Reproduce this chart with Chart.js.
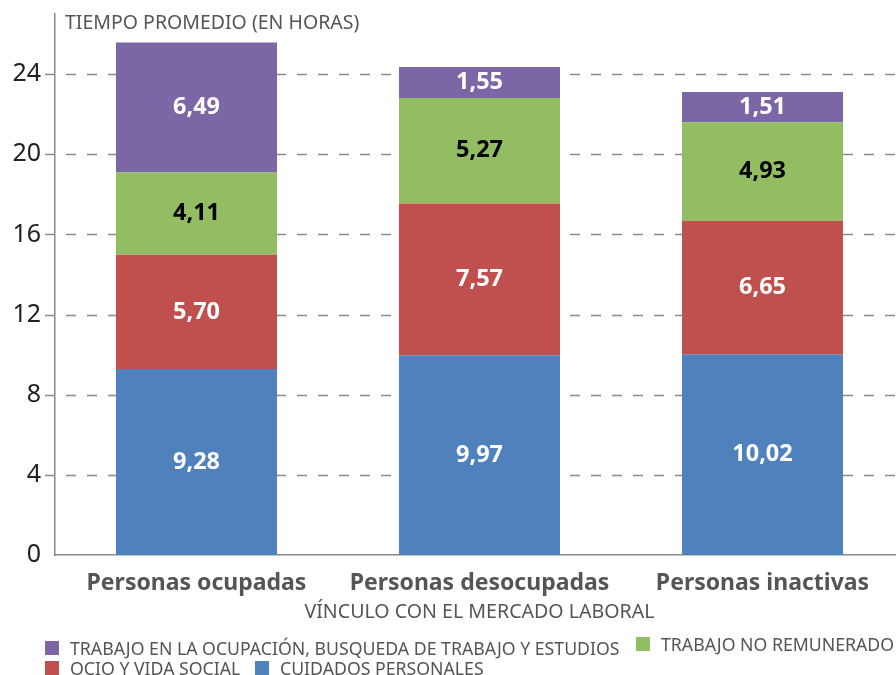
<!DOCTYPE html>
<html lang="es">
<head>
<meta charset="utf-8">
<title>Tiempo promedio según vínculo con el mercado laboral</title>
<script src="https://cdn.jsdelivr.net/npm/chart.js@4.4.1/dist/chart.umd.min.js"></script>
<style>
    html, body { margin: 0; padding: 0; background: #fff; overflow: hidden; }
    #wrap { position: relative; width: 904px; height: 675px; }
    #chart { display: block; }
    .legend-item {
        position: absolute;
        display: flex;
        align-items: center;
        font-family: "Noto Sans", sans-serif;
        font-size: 17.7px;
        color: #555;
        white-space: nowrap;
        line-height: 20px;
    }
    .legend-box { width: 14px; height: 14px; margin-right: 11px; }
</style>
</head>
<body>
<div id="wrap">
    <canvas id="chart" width="904" height="675"></canvas>
    <div id="legend"></div>
</div>
<script>
// Categories and series (hours per day)
const categories = ['Personas ocupadas', 'Personas desocupadas', 'Personas inactivas'];
const cuidadosPersonales = [9.28, 9.97, 10.02];
const ocioVidaSocial = [5.70, 7.57, 6.65];
const trabajoNoRemunerado = [4.11, 5.27, 4.93];
const trabajoOcupacion = [6.49, 1.55, 1.51];
const yTicks = [0, 4, 8, 12, 16, 20, 24];

const FONT = '"Noto Sans", sans-serif';

const datasets = [
    { label: 'CUIDADOS PERSONALES', data: cuidadosPersonales, backgroundColor: '#4F81BD', labelColor: '#fff' },
    { label: 'OCIO Y VIDA SOCIAL', data: ocioVidaSocial, backgroundColor: '#C0504D', labelColor: '#fff' },
    { label: 'TRABAJO NO REMUNERADO', data: trabajoNoRemunerado, backgroundColor: '#93BD63', labelColor: '#000' },
    { label: 'TRABAJO EN LA OCUPACIÓN, BUSQUEDA DE TRABAJO Y ESTUDIOS', data: trabajoOcupacion, backgroundColor: '#7C67A6', labelColor: '#fff' }
].map(ds => Object.assign(ds, {
    borderWidth: 0,
    barPercentage: 0.569,
    categoryPercentage: 1
}));

// Dashed horizontal guides, starting just left of the axis
const dashedGrid = {
    id: 'dashedGrid',
    beforeDatasetsDraw(chart) {
        const { ctx, chartArea, scales } = chart;
        ctx.save();
        ctx.strokeStyle = '#8a8a8a';
        ctx.lineWidth = 1.3;
        ctx.setLineDash([10, 11]);
        yTicks.forEach(v => {
            if (v === 0) return;
            const y = Math.round(scales.y.getPixelForValue(v)) + 0.5;
            ctx.beginPath();
            ctx.moveTo(chartArea.left - 10, y);
            ctx.lineTo(chartArea.right, y);
            ctx.stroke();
        });
        ctx.restore();
    }
};

// Value labels in the middle of each segment, plus the unit caption
const segmentLabels = {
    id: 'segmentLabels',
    afterDatasetsDraw(chart) {
        const { ctx, chartArea } = chart;
        ctx.save();
        ctx.font = 'bold 23.5px ' + FONT;
        ctx.textAlign = 'center';
        ctx.textBaseline = 'middle';
        chart.data.datasets.forEach((ds, i) => {
            chart.getDatasetMeta(i).data.forEach((bar, j) => {
                const p = bar.getCenterPoint();
                ctx.fillStyle = ds.labelColor;
                ctx.fillText(ds.data[j].toFixed(2).replace('.', ','), p.x, p.y);
            });
        });
        ctx.font = '19.5px ' + FONT;
        ctx.fillStyle = '#555';
        ctx.textAlign = 'left';
        ctx.fillText('TIEMPO PROMEDIO (EN HORAS)', chartArea.left + 10, 23);
        ctx.restore();
    }
};

const chart = new Chart(document.getElementById('chart'), {
    type: 'bar',
    data: { labels: categories, datasets: datasets },
    options: {
        responsive: false,
        animation: false,
        layout: { padding: { top: 0, left: 0, right: 0, bottom: 0 } },
        plugins: {
            legend: { display: false },
            tooltip: { enabled: false }
        },
        scales: {
            x: {
                stacked: true,
                grid: { display: false, drawTicks: false },
                border: { display: true, color: '#8a8a8a', width: 1.5 },
                ticks: {
                    color: '#555',
                    font: { family: FONT, size: 23, weight: 'bold' },
                    padding: 15,
                    maxRotation: 0,
                    autoSkip: false
                },
                title: {
                    display: true,
                    text: 'VÍNCULO CON EL MERCADO LABORAL',
                    color: '#555',
                    font: { family: FONT, size: 19.6 },
                    padding: { top: 0, bottom: 51 }
                },
                afterFit(scale) { scale.height = 120; }
            },
            y: {
                stacked: true,
                min: 0,
                max: 27,
                grid: { display: false, drawTicks: false },
                border: { display: true, color: '#8a8a8a', width: 1.5 },
                ticks: {
                    color: '#222',
                    font: { family: FONT, size: 25 },
                    padding: 14,
                    includeBounds: false
                },
                afterBuildTicks(scale) { scale.ticks = yTicks.map(v => ({ value: v })); },
                afterFit(scale) {
                    scale.width = 55;
                    scale.paddingTop = 14;
                }
            }
        }
    },
    plugins: [dashedGrid, segmentLabels]
});

// Legend laid out in two rows under the axis title
const legendSlots = [
    { dataset: 3, left: 45, top: 638 },
    { dataset: 2, left: 636, top: 634 },
    { dataset: 1, left: 45, top: 658 },
    { dataset: 0, left: 255, top: 658 }
];
const legendEl = document.getElementById('legend');
legendSlots.forEach(slot => {
    const ds = chart.data.datasets[slot.dataset];
    const item = document.createElement('div');
    item.className = 'legend-item';
    item.style.left = slot.left + 'px';
    item.style.top = slot.top + 'px';
    item.innerHTML = `<span class="legend-box" style="background:${ds.backgroundColor}"></span><span>${ds.label}</span>`;
    legendEl.appendChild(item);
});
</script>
</body>
</html>
